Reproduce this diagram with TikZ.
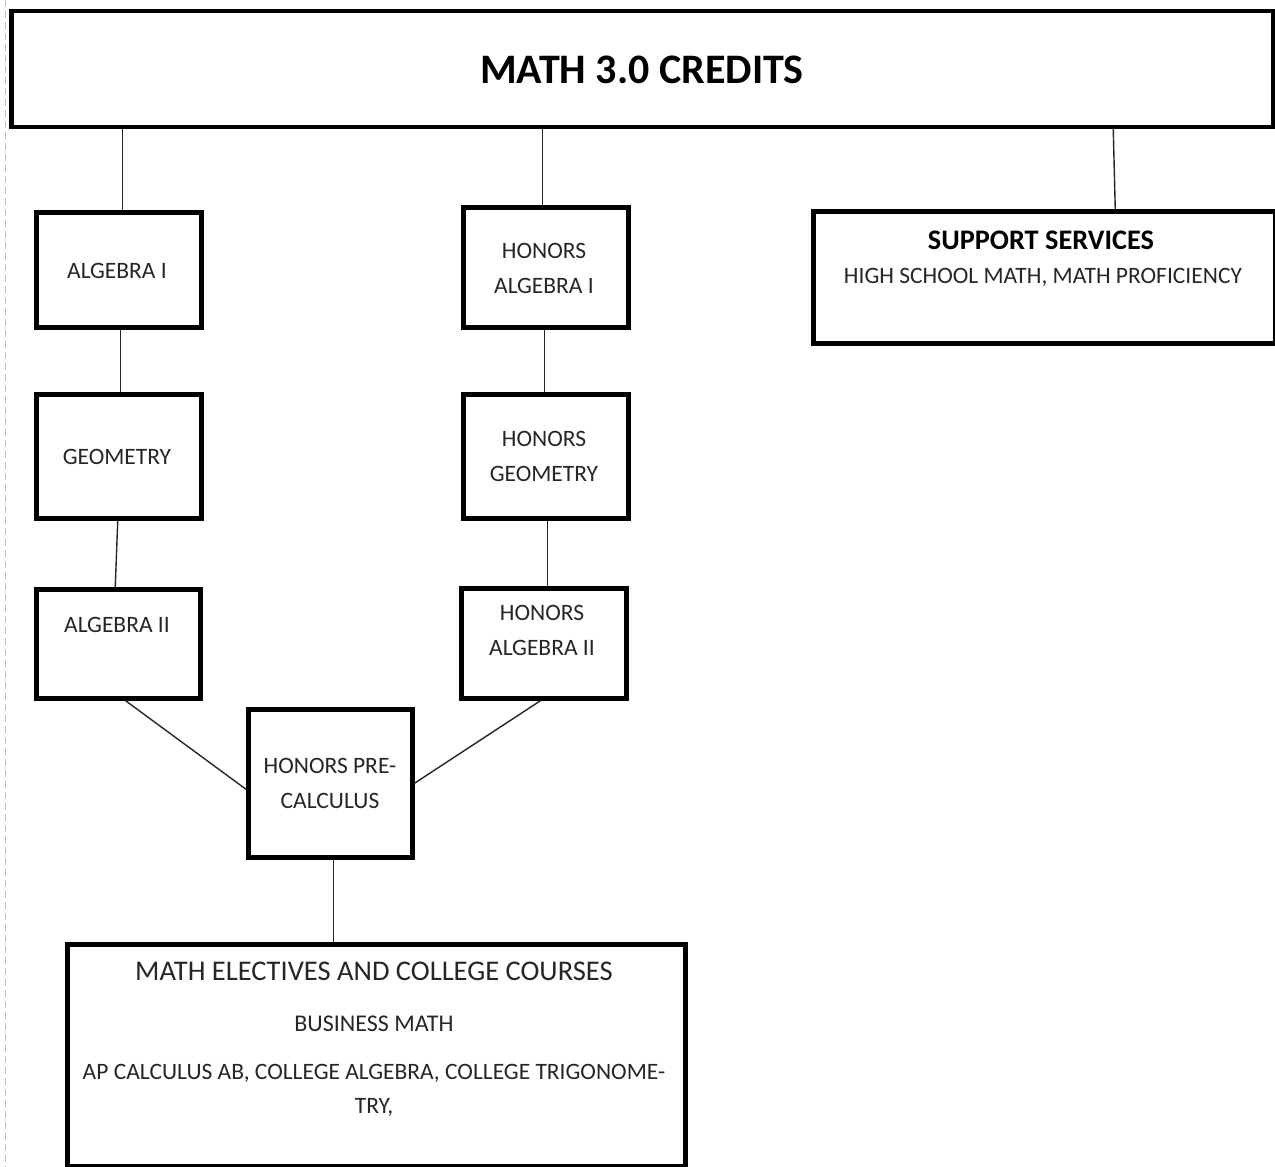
\documentclass[tikz,border=0pt]{standalone}
\usepackage{fontspec}
\setmainfont{Carlito}
\begin{document}
\begin{tikzpicture}[x=1pt,y=-1pt,
  box/.style={draw=black, line width=4.5pt, fill=white, rectangle, inner sep=0pt, anchor=north west},
  txt/.style={font=\fontsize{23.5}{28}\selectfont, inner sep=0pt, align=center, text=black!85},
  link/.style={draw=black!85, line width=1.4pt}]
\useasboundingbox (0,0) rectangle (1275,1167);
\fill[white] (0,0) rectangle (1275,1167);
\draw[black!25, line width=1pt, dash pattern=on 7pt off 4pt] (5,0) -- (5,1167);

% boxes
\node[box, minimum width=1262, minimum height=116] (top) at (9,8.5) {};
\node[box, minimum width=165, minimum height=115] (alg1) at (34,210) {};
\node[box, minimum width=165, minimum height=124] (geo) at (34,392) {};
\node[box, minimum width=164, minimum height=109] (alg2) at (34,587) {};
\node[box, minimum width=165, minimum height=120] (halg1) at (461,205) {};
\node[box, minimum width=165, minimum height=124] (hgeo) at (461,392) {};
\node[box, minimum width=165, minimum height=110] (halg2) at (459,586) {};
\node[box, minimum width=164, minimum height=148] (pc) at (246,707) {};
\node[box, minimum width=618, minimum height=222] (elec) at (65,942) {};
\node[box, minimum width=462, minimum height=132] (supp) at (811,209) {};

% texts
\node[txt, font=\bfseries\fontsize{42}{46}\selectfont, text=black] (t-top) at (642,70) {MATH 3.0 CREDITS};
\node[txt] (t-alg1) at (117,271) {ALGEBRA I};
\node[txt] (t-geo) at (117,457) {GEOMETRY};
\node[txt] (t-alg2) at (117,625) {ALGEBRA II};
\node[txt] (t-halg1) at (544,268) {HONORS\\[7pt]ALGEBRA I};
\node[txt] (t-hgeo) at (544,456) {HONORS\\[7pt]GEOMETRY};
\node[txt] (t-halg2) at (542,630) {HONORS\\[7pt]ALGEBRA II};
\node[txt] (t-pc) at (330,783) {HONORS PRE-\\[7pt]CALCULUS};
\node[txt, font=\bfseries\fontsize{28.3}{32}\selectfont, text=black] (t-supp) at (1041,240) {SUPPORT SERVICES};
\node[txt] (t-supp2) at (1043,277) {HIGH SCHOOL MATH, MATH PROFICIENCY};
\node[txt, font=\fontsize{28.5}{32}\selectfont] (t-elec) at (374,971) {MATH ELECTIVES AND COLLEGE COURSES};
\node[txt, font=\fontsize{24}{28}\selectfont] (t-elec2) at (374,1024) {BUSINESS MATH};
\node[txt] (t-elec3) at (374,1090) {AP CALCULUS AB, COLLEGE ALGEBRA, COLLEGE TRIGONOME-\\[6pt]TRY,};

% connectors
\draw[link] ([xshift=4pt]top.south -| alg1.north) -- ([xshift=4pt]alg1.north);
\draw[link] ([xshift=-3pt]top.south -| halg1.north) -- ([xshift=-3pt]halg1.north);
\draw[link] ([xshift=69pt]top.south -| supp.north) -- ([xshift=71pt]supp.north);
\draw[link] ([xshift=2pt]alg1.south) -- ([xshift=2pt]geo.north);
\draw[link] ([xshift=-1pt]geo.south) -- ([xshift=-3pt]alg2.north);
\draw[link] ([xshift=-1pt]halg1.south) -- ([xshift=-1pt]hgeo.north);
\draw[link] ([xshift=2pt]hgeo.south) -- ([xshift=4pt]halg2.north);
\draw[link] ([xshift=7pt]alg2.south) -- ([yshift=-6pt]pc.west);
\draw[link] ([xshift=-3pt]halg2.south) -- (pc.east);
\draw[link] ([xshift=3pt]pc.south) -- ([xshift=-43pt]elec.north);
\end{tikzpicture}
\end{document}
